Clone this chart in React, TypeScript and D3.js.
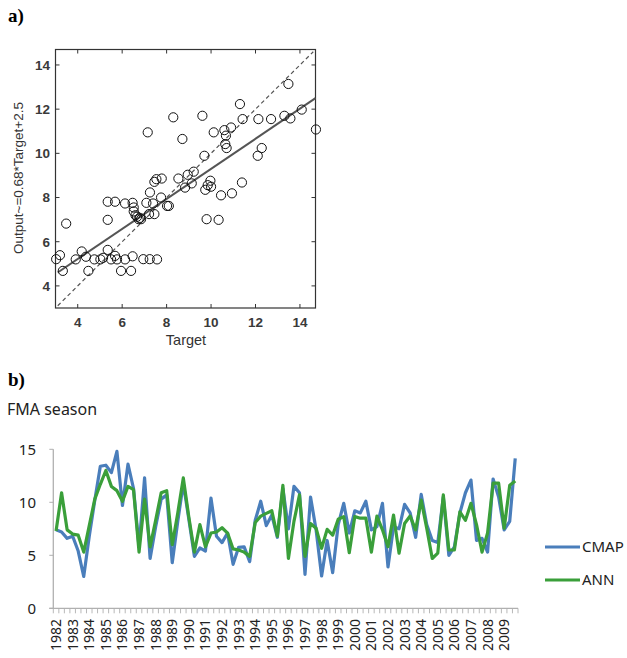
import { useEffect, useRef } from 'react';
import * as d3 from 'd3';

// panel a: scatter of target vs output
const targetVals = [3.03, 3.2, 3.33, 3.48, 3.91, 4.18, 4.37, 4.48, 4.75, 5.02, 5.14, 5.35, 5.35, 5.35, 5.5, 5.68, 5.68, 5.77, 5.95, 6.13, 6.13, 6.4, 6.47, 6.47, 6.52, 6.52, 6.67, 6.74, 6.85, 6.8, 6.6, 6.95, 7.09, 7.15, 7.21, 7.24, 7.25, 7.39, 7.45, 7.45, 7.54, 7.57, 7.78, 7.75, 8.02, 8.1, 8.3, 8.53, 8.71, 8.83, 8.95, 9.13, 9.22, 9.61, 9.7, 9.74, 9.8, 9.85, 9.97, 10.0, 10.12, 10.34, 10.45, 10.6, 10.64, 10.67, 10.7, 10.9, 10.94, 11.3, 11.39, 11.42, 12.1, 12.13, 12.28, 12.7, 13.3, 13.48, 13.57, 14.08, 14.72];
const outputVals = [5.21, 5.39, 4.68, 6.82, 5.2, 5.56, 5.32, 4.68, 5.2, 5.2, 5.27, 5.63, 6.99, 7.81, 5.2, 7.81, 5.36, 5.2, 4.68, 5.2, 7.73, 4.68, 5.34, 7.76, 7.55, 7.37, 7.13, 7.02, 7.02, 7.08, 7.2, 5.21, 7.76, 10.95, 7.25, 5.21, 8.23, 7.73, 8.71, 7.25, 8.83, 5.2, 8.86, 8.0, 7.62, 7.62, 11.63, 8.86, 10.65, 8.45, 9.03, 8.64, 9.17, 11.7, 9.89, 8.35, 7.02, 8.56, 8.76, 8.49, 10.95, 6.99, 8.1, 11.05, 10.42, 10.8, 10.24, 11.17, 8.19, 12.23, 8.68, 11.55, 9.89, 11.55, 10.24, 11.55, 11.7, 13.14, 11.58, 11.98, 11.08];
const fitSlope = 0.68;
const fitIntercept = 2.5;
const scatterTicks = [4, 6, 8, 10, 12, 14];

// panel b: FMA season, three values per year
const years = d3.range(1982, 2010);
const cmap = [
  7.4, 7.2, 6.6, 6.8, 5.4, 3.0, 6.8, 10.2, 13.4, 13.5, 12.8, 14.8, 9.7, 13.6, 11.3, 5.8, 12.3, 4.7, 7.7, 10.3, 10.7,
  4.3, 8.2, 11.8, 8.4, 4.9, 5.7, 5.4, 10.4, 6.8, 6.2, 7.1, 4.15, 5.75, 5.8, 4.4, 8.3, 10.1, 7.8, 8.8, 6.7, 11.3,
  7.5, 11.5, 10.9, 3.2, 10.5, 7.4, 3.05, 6.4, 3.36, 7.9, 9.9, 7.1, 9.2, 9.0, 10.1, 7.4, 7.7, 9.9, 3.9, 7.7,
  7.5, 9.8, 9.0, 6.7, 10.75, 7.9, 6.4, 6.2, 10.5, 5.0, 5.8, 9.0, 10.9, 12.1, 6.4, 6.6, 5.3, 12.2, 10.5, 7.4, 8.2, 14.15,
];
const ann = [
  7.3, 10.9, 7.4, 7.0, 6.9, 5.3, 7.8, 10.3, 11.7, 13.0, 11.5, 11.1, 10.1, 11.5, 11.2, 5.3, 10.3, 5.8, 8.3, 10.9, 11.1,
  6.0, 9.0, 12.3, 8.6, 5.3, 7.9, 5.8, 7.1, 7.2, 7.6, 7.1, 5.6, 5.5, 5.3, 4.9, 8.1, 8.7, 8.95, 9.2, 6.8, 11.6,
  4.7, 8.2, 10.7, 4.9, 8.0, 7.55, 5.66, 7.45, 6.9, 8.4, 8.65, 5.25, 8.65, 8.5, 8.5, 5.3, 8.7, 7.4, 5.8, 8.8,
  5.2, 8.0, 8.7, 7.4, 10.2, 7.55, 4.7, 5.2, 10.7, 5.5, 5.5, 9.1, 8.3, 9.9, 7.9, 5.3, 7.1, 11.8, 11.8, 7.55, 11.6, 12.0,
];
const lineTicks = [0, 5, 10, 15];
const seriesNames = ['CMAP', 'ANN'];
const seriesColors = ['#4a7ebb', '#3a9f3a'];

const App = () => {
  const svgRef = useRef<SVGSVGElement | null>(null);

  useEffect(() => {
    const svg = d3.select(svgRef.current);
    svg.selectAll('*').remove();

    // ---------- a) scatter ----------
    svg.append('text').attr('x', 8).attr('y', 22)
      .style('font-family', '"Liberation Serif", serif').style('font-weight', 'bold').style('font-size', '19px')
      .text('a)');

    const ax = d3.scaleLinear().domain([3, 14.7]).range([55.5, 315.5]);
    const ay = d3.scaleLinear().domain([3, 14.7]).range([308, 49.5]);
    const ga = svg.append('g');

    ga.append('rect')
      .attr('x', ax(3)).attr('y', ay(14.7))
      .attr('width', ax(14.7) - ax(3)).attr('height', ay(3) - ay(14.7))
      .attr('fill', 'none').attr('stroke', '#333').attr('stroke-width', 1.2);

    const tickFont = (s: d3.Selection<SVGTextElement, number, SVGGElement, unknown>) =>
      s.style('font-family', '"Liberation Sans", Arial, sans-serif').style('font-weight', 'bold')
        .style('font-size', '13.5px').attr('fill', '#3a3a3a');

    scatterTicks.forEach((t) => {
      ga.append('line').attr('x1', ax(t)).attr('x2', ax(t)).attr('y1', ay(3)).attr('y2', ay(3) - 4).attr('stroke', '#333');
      ga.append('line').attr('x1', ax(t)).attr('x2', ax(t)).attr('y1', ay(14.7)).attr('y2', ay(14.7) + 4).attr('stroke', '#333');
      ga.append('line').attr('y1', ay(t)).attr('y2', ay(t)).attr('x1', ax(3)).attr('x2', ax(3) + 4).attr('stroke', '#333');
      ga.append('line').attr('y1', ay(t)).attr('y2', ay(t)).attr('x1', ax(14.7)).attr('x2', ax(14.7) - 4).attr('stroke', '#333');
    });

    ga.selectAll<SVGTextElement, number>('text.xt').data(scatterTicks).enter().append('text')
      .attr('class', 'xt').attr('x', (d) => ax(d)).attr('y', 327).attr('text-anchor', 'middle')
      .text((d) => d).call(tickFont);
    ga.selectAll<SVGTextElement, number>('text.yt').data(scatterTicks).enter().append('text')
      .attr('class', 'yt').attr('x', 50).attr('y', (d) => ay(d)).attr('dy', '0.36em').attr('text-anchor', 'end')
      .text((d) => d).call(tickFont);

    ga.append('text').attr('x', 186).attr('y', 345).attr('text-anchor', 'middle')
      .style('font-family', '"Liberation Sans", Arial, sans-serif').style('font-size', '14.5px').attr('fill', '#333')
      .text('Target');
    ga.append('text').attr('transform', 'translate(23,178) rotate(-90)').attr('text-anchor', 'middle')
      .style('font-family', '"Liberation Sans", Arial, sans-serif').style('font-size', '13.5px').attr('fill', '#333')
      .text('Output~=0.68*Target+2.5');

    // 1:1 dashed line
    ga.append('line')
      .attr('x1', ax(3.1)).attr('y1', ay(3.1)).attr('x2', ax(14.6)).attr('y2', ay(14.6))
      .attr('stroke', '#555').attr('stroke-width', 1.2).attr('stroke-dasharray', '4,3');
    // fit line
    const fitLine = d3.line<number>().x((d) => ax(d)).y((d) => ay(fitSlope * d + fitIntercept));
    ga.append('path').datum([3.1, 14.7]).attr('d', fitLine)
      .attr('fill', 'none').attr('stroke', '#555').attr('stroke-width', 2);

    ga.selectAll('circle').data(targetVals).enter().append('circle')
      .attr('cx', (d) => ax(d)).attr('cy', (_d, i) => ay(outputVals[i])).attr('r', 4.6)
      .attr('fill', 'none').attr('stroke', '#111').attr('stroke-width', 1);

    // ---------- b) time series ----------
    svg.append('text').attr('x', 8).attr('y', 386)
      .style('font-family', '"Liberation Serif", serif').style('font-weight', 'bold').style('font-size', '19px')
      .text('b)');
    svg.append('text').attr('x', 7).attr('y', 415)
      .style('font-family', '"Noto Sans", sans-serif').style('font-size', '16px').attr('fill', '#222')
      .text('FMA season');

    const n = cmap.length;
    const bx = d3.scaleBand<number>().domain(d3.range(n)).range([53.3, 518]);
    const by = d3.scaleLinear().domain([0, 15]).range([608.3, 449.3]);
    const gb = svg.append('g');
    const axisColor = '#b0b0b0';

    gb.append('line').attr('x1', bx.range()[0]).attr('x2', bx.range()[0]).attr('y1', by(0)).attr('y2', by(15))
      .attr('stroke', axisColor).attr('stroke-width', 1.3);
    gb.append('line').attr('x1', bx.range()[0] - 4).attr('x2', bx.range()[1]).attr('y1', by(0)).attr('y2', by(0))
      .attr('stroke', axisColor).attr('stroke-width', 1.3);
    lineTicks.forEach((t) => {
      gb.append('line').attr('x1', bx.range()[0] - 4).attr('x2', bx.range()[0]).attr('y1', by(t)).attr('y2', by(t))
        .attr('stroke', axisColor);
    });
    d3.range(n + 1).forEach((i) => {
      const x = bx.range()[0] + i * bx.step();
      gb.append('line').attr('x1', x).attr('x2', x).attr('y1', by(0)).attr('y2', by(0) + 5)
        .attr('stroke', axisColor).attr('stroke-width', 0.9);
    });

    gb.selectAll('text.lt').data(lineTicks).enter().append('text')
      .attr('class', 'lt').attr('x', 36).attr('y', (d) => by(d)).attr('dy', '0.36em').attr('text-anchor', 'end')
      .style('font-family', '"Noto Sans", sans-serif').style('font-size', '15px').attr('fill', '#222')
      .text((d) => d);

    gb.selectAll('text.yr').data(years).enter().append('text')
      .attr('class', 'yr')
      .attr('transform', (_d, i) => `translate(${bx(i * 3)! + bx.bandwidth() / 2},619) rotate(-90)`)
      .attr('text-anchor', 'end').attr('dy', '0.36em')
      .style('font-family', '"Noto Sans", sans-serif').style('font-size', '14px').attr('fill', '#222')
      .text((d) => d);

    const line = d3.line<number>()
      .x((_d, i) => bx(i)! + bx.bandwidth() / 2)
      .y((d) => by(d));
    [cmap, ann].forEach((s, k) => {
      gb.append('path').datum(s).attr('d', line)
        .attr('fill', 'none').attr('stroke', seriesColors[k]).attr('stroke-width', 3.2)
        .attr('stroke-linejoin', 'round');
    });

    // legend
    seriesNames.forEach((name, k) => {
      const y = 547 + k * 33;
      gb.append('line').attr('x1', 545).attr('x2', 580).attr('y1', y).attr('y2', y)
        .attr('stroke', seriesColors[k]).attr('stroke-width', 3.2);
      gb.append('text').attr('x', 582).attr('y', y).attr('dy', '0.36em')
        .style('font-family', '"Noto Sans", sans-serif').style('font-size', '15px').attr('fill', '#222')
        .text(name);
    });
  }, []);

  return (
    <svg
      ref={svgRef}
      width={627}
      height={658}
      style={{ position: 'absolute', left: 0, top: 0, background: '#fff' }}
    />
  );
};

export default App;
